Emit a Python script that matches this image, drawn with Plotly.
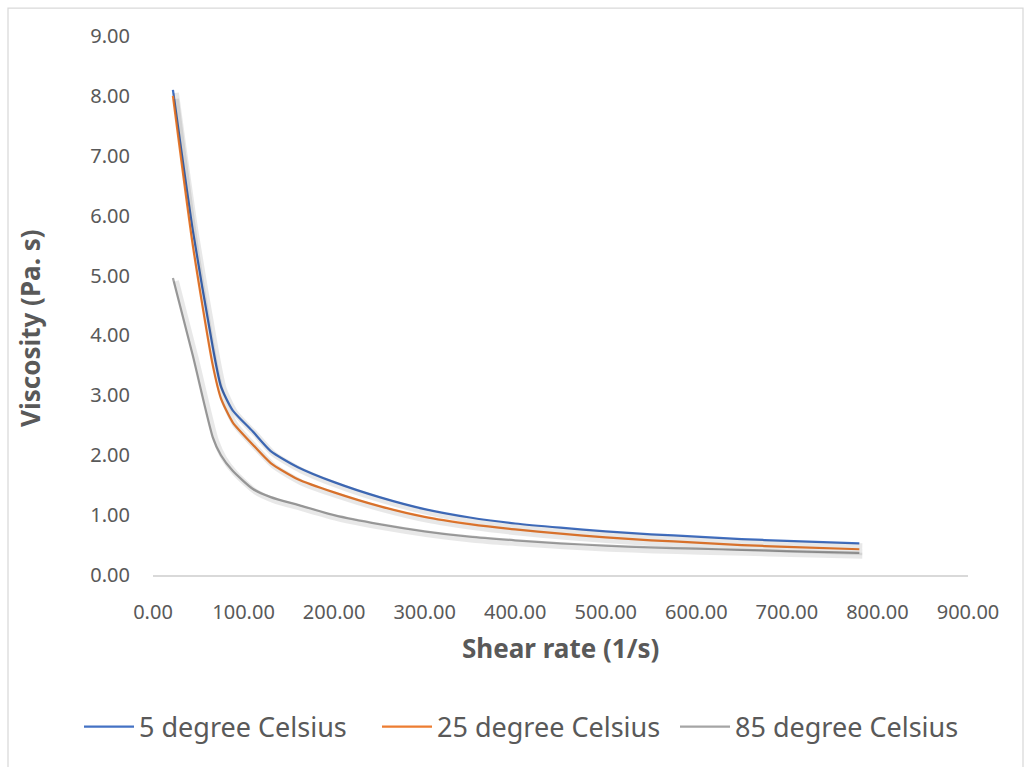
import plotly.graph_objects as go

shear_rate = [22, 44, 66, 75, 88, 110, 130, 160, 200, 250, 300, 350, 400, 450, 500, 550, 600, 650, 700, 780]
visc_5 = [8.10, 5.75, 3.80, 3.15, 2.75, 2.40, 2.07, 1.80, 1.55, 1.30, 1.10, 0.96, 0.86, 0.79, 0.73, 0.68, 0.64, 0.60, 0.57, 0.53]
visc_25 = [8.00, 5.50, 3.50, 2.95, 2.55, 2.18, 1.87, 1.60, 1.38, 1.15, 0.97, 0.85, 0.76, 0.69, 0.63, 0.58, 0.54, 0.50, 0.47, 0.43]
visc_85 = [4.96, 3.66, 2.30, 2.00, 1.74, 1.44, 1.30, 1.17, 1.00, 0.85, 0.73, 0.64, 0.58, 0.53, 0.49, 0.46, 0.44, 0.42, 0.40, 0.37]

series = [
    ("5 degree Celsius", visc_5, "#4472C4"),
    ("25 degree Celsius", visc_25, "#ED7D31"),
    ("85 degree Celsius", visc_85, "#A5A5A5"),
]

W, H = 1031, 767
L, R, T, B = 153, 63, 36, 192
pw, ph = W - L - R, H - T - B
xr = [0, 900]
yr = [0, 9]
dx = 3 * (xr[1] - xr[0]) / pw   # 3 px shadow offset in data units
dy = 3 * (yr[1] - yr[0]) / ph

fig = go.Figure()
# soft shadows on an overlay axis pair shifted by a few pixels
for name, vals, col in series:
    fig.add_trace(go.Scatter(x=shear_rate, y=vals, mode="lines", xaxis="x2", yaxis="y2",
                             line=dict(color="rgba(0,0,0,0.09)", width=6, shape="spline", smoothing=0.6),
                             showlegend=False, hoverinfo="skip"))
for name, vals, col in series:
    fig.add_trace(go.Scatter(x=shear_rate, y=vals, mode="lines", name=name,
                             line=dict(color=col, width=2.25, shape="spline", smoothing=0.6)))

tickfont = dict(family="Noto Sans", size=20, color="#595959")
fig.update_layout(
    width=W, height=H,
    margin=dict(l=L, r=R, t=T, b=B, autoexpand=False),
    paper_bgcolor="white", plot_bgcolor="white",
    font=dict(family="Noto Sans", color="#595959"),
    xaxis=dict(range=xr, dtick=100, tickformat=".2f", showgrid=False, zeroline=False,
               showline=True, linecolor="#D9D9D9", linewidth=1.5, ticks="",
               tickfont=tickfont, ticklabelstandoff=18, fixedrange=True),
    yaxis=dict(range=yr, dtick=1, tickformat=".2f", showgrid=False, zeroline=False,
               showline=False, ticks="", tickfont=tickfont, ticklabelstandoff=22,
               fixedrange=True),
    xaxis2=dict(range=[xr[0] - dx, xr[1] - dx], overlaying="x", visible=False, fixedrange=True),
    yaxis2=dict(range=[yr[0] + dy, yr[1] + dy], overlaying="y", visible=False, fixedrange=True),
    showlegend=True,
    legend=dict(orientation="h", xref="paper", yref="paper",
                x=(79 - L) / pw, y=(H - B - 727) / ph,
                xanchor="left", yanchor="middle",
                font=dict(family="Noto Sans", size=27, color="#595959"),
                itemwidth=50, entrywidth=233, entrywidthmode="pixels",
                bgcolor="rgba(0,0,0,0)"),
    annotations=[
        dict(text="<b>Shear rate (1/s)</b>", xref="paper", yref="paper",
             x=(560 - L) / pw, y=(H - B - 648) / ph, showarrow=False,
             xanchor="center", yanchor="middle",
             font=dict(family="Noto Sans", size=26, color="#595959")),
        dict(text="<b>Viscosity (Pa. s)</b>", xref="paper", yref="paper",
             x=(30 - L) / pw, y=(H - B - 328) / ph, showarrow=False, textangle=-90,
             xanchor="center", yanchor="middle",
             font=dict(family="Noto Sans", size=26, color="#595959")),
    ],
    shapes=[
        dict(type="rect", xref="paper", yref="paper",
             x0=(8 - L) / pw, x1=(1023 - L) / pw,
             y0=(H - B - 780) / ph, y1=(H - B - 8) / ph,
             line=dict(color="#D9D9D9", width=1.25), fillcolor="rgba(0,0,0,0)", layer="below"),
    ],
)

fig.write_html("out.html")
